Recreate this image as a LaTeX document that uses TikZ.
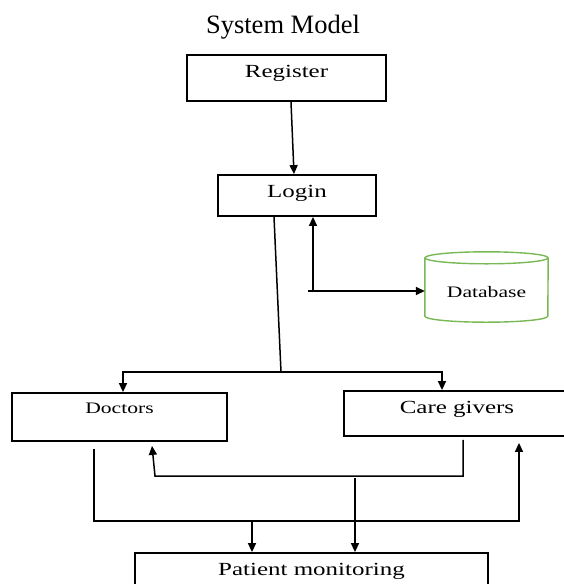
\documentclass[tikz,border=0pt]{standalone}
\usepackage{fontspec}
\setmainfont{Liberation Serif}
\newfontfamily\boxfont[FakeStretch=1.35]{Liberation Serif}
\usetikzlibrary{arrows.meta}
\definecolor{dbgreen}{RGB}{120,185,85}
\tikzset{
  box/.style={draw, line width=1.8pt, inner sep=0pt, font=\boxfont\fontsize{18.5}{20}\selectfont},
  smalltext/.style={font=\boxfont\fontsize{16}{18}\selectfont},
  wire/.style={line width=1.5pt},
  arr/.style={line width=1.5pt, -{Triangle[length=9pt,width=8pt]}}
}
\begin{document}
\begin{tikzpicture}[x=1pt,y=-1pt]
\clip (0,0) rectangle (564,584);
%title
    \node[anchor=base, font=\fontsize{26.5}{30}\selectfont] (title) at (283,33) {System Model};

%draw boxes
    \node[box, minimum width=199, minimum height=46, text height=22, text depth=24] (reg) at (286.5,78) {Register};
    \node[box, minimum width=158, minimum height=41, text height=22, text depth=19] (login) at (297,195.5) {Login};
    \node[box, smalltext, minimum width=215, minimum height=48, text height=20, text depth=28] (doc) at (119.5,417) {Doctors};
    \node[box, minimum width=226, minimum height=45, text height=22, text depth=23] (care) at (457,413.5) {Care givers};
    \node[box, minimum width=353, minimum height=47, text height=22, text depth=25] (pat) at (311.5,576.5) {Patient monitoring};

%draw database cylinder
    \node[smalltext, minimum width=123, minimum height=70, inner sep=0pt, text height=45, text depth=25] (db) at (486.5,287) {Database};
    \draw[dbgreen, line width=1.4pt] ([yshift=-6pt]db.north west) -- ([yshift=6pt]db.south west)
        arc (180:360:61.5pt and 6pt) -- ([yshift=-6pt]db.north east);
    \draw[dbgreen, line width=1.4pt] ([yshift=-6pt]db.north) ellipse (61.5pt and 6pt);

%register to login
    \draw[arr] ([xshift=4.5]reg.south) -- ([xshift=-3]login.north);

%login to database
    \coordinate (dbj) at (313,291);
    \draw[arr] (dbj) -- ([xshift=16]login.south);
    \draw[arr] ([xshift=-5]dbj) -- (dbj -| db.west);

%login down to doctors and care givers
    \coordinate (split) at (281,372);
    \draw[wire] ([xshift=-23]login.south) -- (split);
    \draw[arr] (split) -| ([xshift=3.5]doc.north);
    \draw[arr] (split) -| ([xshift=-15]care.north);

%care givers back to doctors
    \coordinate (fbR) at (463,476);
    \coordinate (fbL) at (155,476);
    \draw[arr] ([xshift=6,yshift=-3]care.south) -- (fbR) -- (fbL) -- ([xshift=32.5,yshift=-4]doc.south);

%doctors round to care givers
    \coordinate (busL) at (94,521);
    \coordinate (busR) at (519,521);
    \draw[arr] ([xshift=-25.5,yshift=-7]doc.south) -- (busL) -- (busR) -- ([xshift=62,yshift=-6]care.south);

%down to patient monitoring
    \draw[arr] ([xshift=-59.5]pat.north |- busL) -- ([xshift=-59.5]pat.north);
    \coordinate (mid) at (355,478);
    \draw[arr] (mid) -- (mid |- pat.north);
\end{tikzpicture}
\end{document}
